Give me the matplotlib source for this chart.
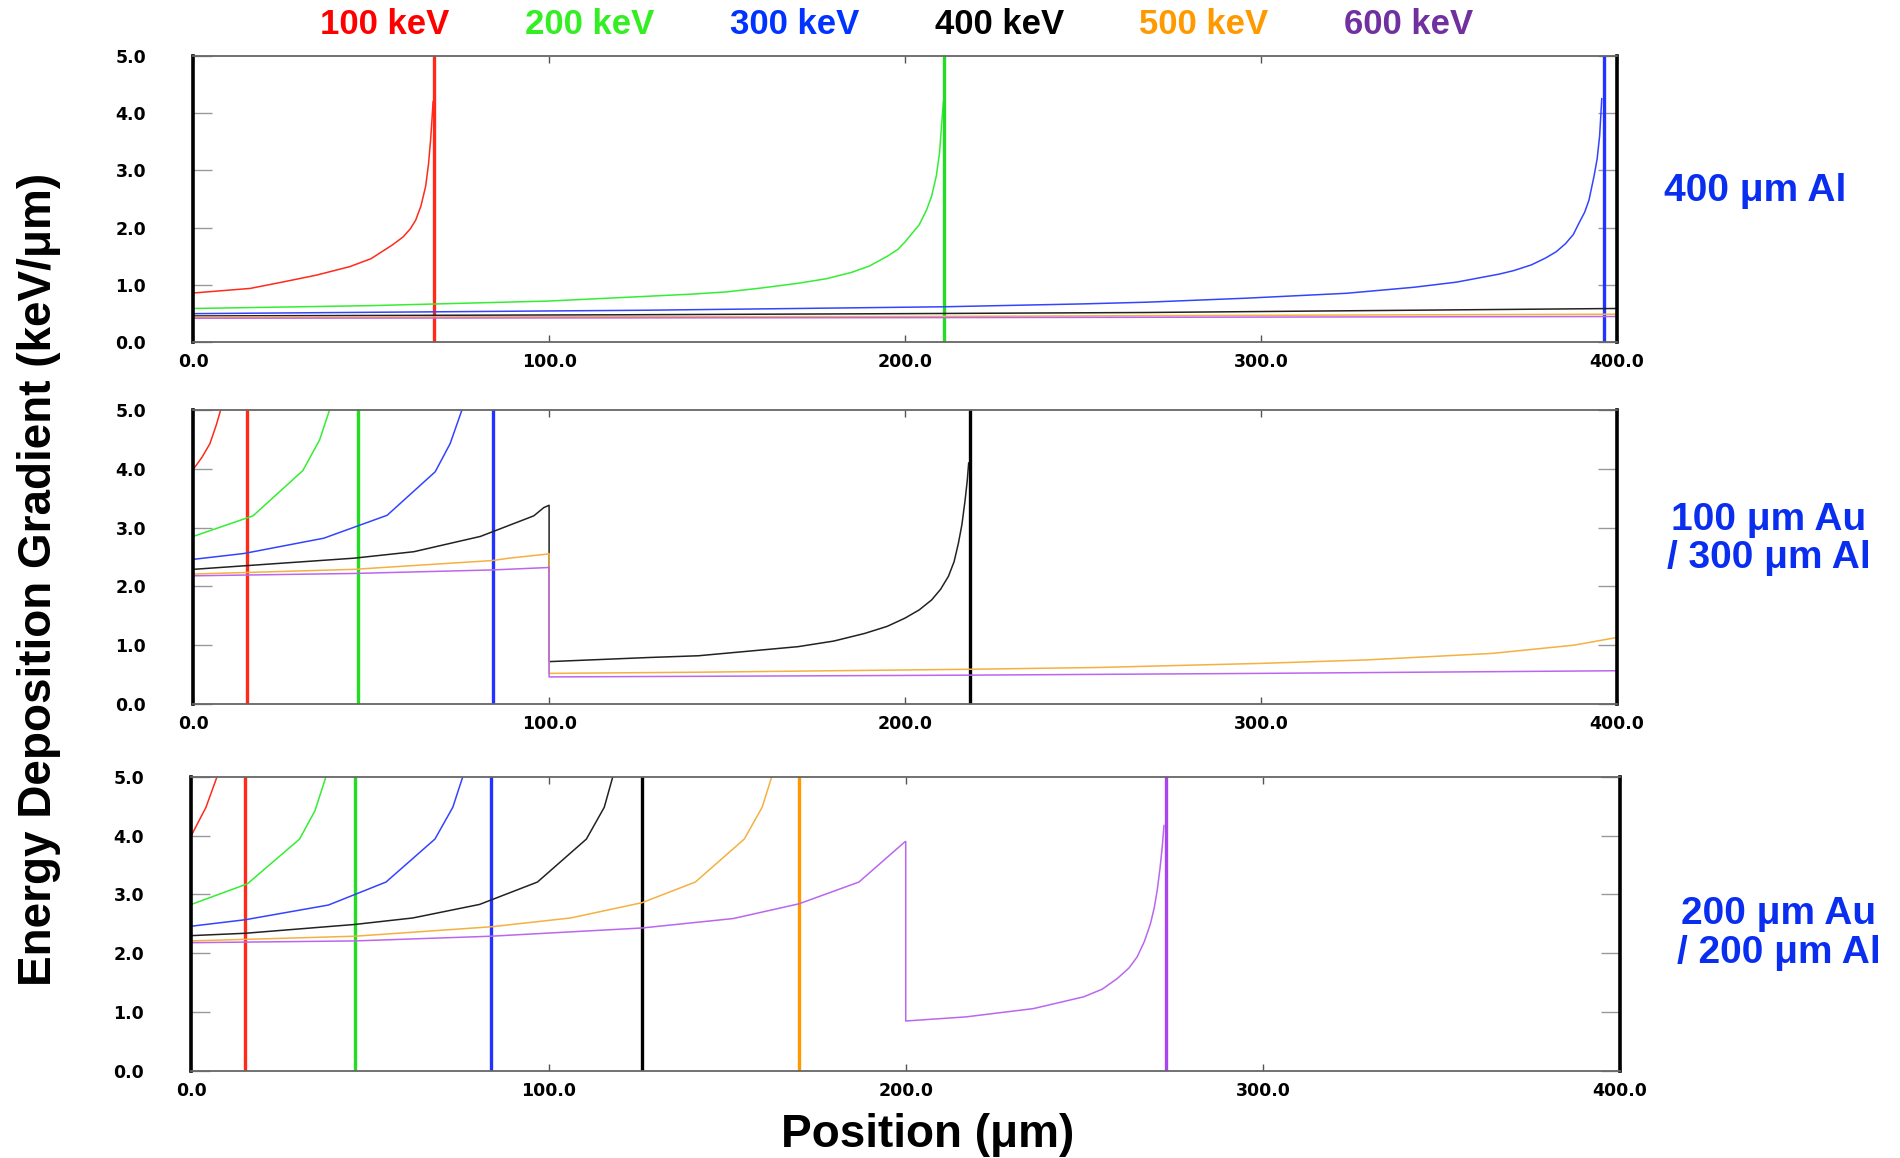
import matplotlib.pyplot as plt

# energies / colours
energies = ["100 keV", "200 keV", "300 keV", "400 keV", "500 keV", "600 keV"]
legend_colors = ["#ff0000", "#33ee22", "#0033ff", "#000000", "#ff9900", "#7030a0"]
curve_colors = ["#ff2a1a", "#33ee33", "#3344ff", "#222222", "#f5b041", "#bb66ee"]
stop_colors = ["#ff2a1a", "#22dd22", "#2233ff", "#000000", "#ff9900", "#aa44ee"]

panel_labels = ["400 μm Al", "100 μm Au\n/ 300 μm Al", "200 μm Au\n/ 200 μm Al"]

# ---- panel 1 : 400 um Al ----
p1_red_x = [0, 16, 25, 34.5, 44, 50, 53, 56, 59, 61, 62.5, 64, 65.3, 66.1, 66.7, 67.1, 67.4]
p1_red_y = [0.86, 0.94, 1.05, 1.17, 1.32, 1.46, 1.58, 1.7, 1.84, 1.98, 2.13, 2.38, 2.72, 3.1, 3.53, 3.9, 4.2]
p1_green_x = [0, 50, 100, 120, 140, 150, 160, 170, 178, 185, 190, 195, 198, 200, 202, 204, 206,
              207.5, 208.8, 209.7, 210.3, 210.8]
p1_green_y = [0.59, 0.64, 0.72, 0.78, 0.84, 0.88, 0.95, 1.03, 1.11, 1.22, 1.33, 1.5, 1.62, 1.75, 1.9,
              2.05, 2.3, 2.55, 2.9, 3.3, 3.8, 4.2]
p1_blue_x = [0, 128, 211, 250, 268, 296, 324, 343, 355, 361, 367, 371, 376, 380, 383, 385.6, 387.8,
             389.4, 391, 392.2, 393.6, 394.5, 395.2, 395.8]
p1_blue_y = [0.5, 0.56, 0.62, 0.67, 0.7, 0.77, 0.855, 0.96, 1.05, 1.12, 1.19, 1.25, 1.35, 1.47, 1.58,
             1.72, 1.88, 2.08, 2.27, 2.48, 2.89, 3.2, 3.6, 4.25]
p1_black_x = [0, 120, 200, 268, 400]
p1_black_y = [0.46, 0.48, 0.5, 0.52, 0.59]
p1_orange_x = [0, 200, 268, 400]
p1_orange_y = [0.44, 0.45, 0.465, 0.49]
p1_purple_x = [0, 200, 400]
p1_purple_y = [0.42, 0.43, 0.45]
p1_stops = [67.7, 210.9, 396.3, None, None, None]

# ---- panel 2 : 100 um Au / 300 um Al ----
p2_red_x = [0, 2.5, 4.7, 6.5, 7.7]
p2_red_y = [3.99, 4.2, 4.43, 4.75, 5.0]
p2_green_x = [0, 16.8, 30.8, 35.5, 38.3]
p2_green_y = [2.85, 3.2, 3.97, 4.49, 5.0]
p2_blue_x = [0, 14.3, 36.7, 54.5, 68, 72.2, 75.5]
p2_blue_y = [2.46, 2.56, 2.82, 3.21, 3.95, 4.43, 5.0]
p2_black_x = [0, 14.3, 45.2, 62, 80.7, 95.7, 98.5, 100, 100, 128, 142, 170, 180, 188.7, 195, 200, 204,
              207.5, 210, 212.2, 213.8, 215, 216, 216.9, 217.5, 217.9]
p2_black_y = [2.29, 2.35, 2.48, 2.59, 2.85, 3.2, 3.34, 3.38, 0.72, 0.79, 0.82, 0.975, 1.07, 1.2, 1.32,
              1.46, 1.6, 1.77, 1.95, 2.17, 2.42, 2.73, 3.05, 3.47, 3.8, 4.1]
p2_orange_x = [0, 45.2, 84.1, 88.8, 99.5, 100, 100, 142, 218, 254, 300, 330, 365, 388, 400]
p2_orange_y = [2.21, 2.29, 2.44, 2.48, 2.55, 2.56, 0.52, 0.54, 0.59, 0.62, 0.69, 0.75, 0.86, 1.0, 1.13]
p2_purple_x = [0, 45.2, 84.1, 99.5, 100, 100, 142, 218, 300, 400]
p2_purple_y = [2.18, 2.22, 2.28, 2.32, 2.33, 0.46, 0.47, 0.49, 0.52, 0.565]
p2_stops = [15.2, 46.3, 84.1, 218.2, None, None]

# ---- panel 3 : 200 um Au / 200 um Al ----
p3_red_x = [0, 4.1, 7.2]
p3_red_y = [4.0, 4.48, 5.0]
p3_green_x = [0, 15.7, 30.3, 34.6, 37.7]
p3_green_y = [2.83, 3.18, 3.94, 4.42, 5.0]
p3_blue_x = [0, 15.1, 38.4, 54.5, 68.2, 73.2, 76]
p3_blue_y = [2.46, 2.57, 2.82, 3.21, 3.94, 4.48, 5.0]
p3_black_x = [0, 15.1, 45.8, 62, 80.7, 96.9, 110.6, 115.6, 118]
p3_black_y = [2.3, 2.34, 2.49, 2.6, 2.83, 3.21, 3.94, 4.48, 5.0]
p3_orange_x = [0, 45.8, 83.9, 106.2, 126.2, 141.1, 154.8, 159.8, 162.5]
p3_orange_y = [2.21, 2.29, 2.45, 2.6, 2.86, 3.21, 3.94, 4.48, 5.0]
p3_purple_x = [0, 45.8, 83.9, 126.2, 151.7, 170.1, 186.9, 199.7, 200, 200, 216.9, 235.7, 249.8, 255,
               259.2, 262.5, 264.8, 266.8, 268.5, 269.6, 270.4, 271.2, 271.8, 272.3]
p3_purple_y = [2.18, 2.21, 2.29, 2.43, 2.59, 2.84, 3.21, 3.89, 3.9, 0.85, 0.92, 1.06, 1.26, 1.39,
               1.57, 1.75, 1.94, 2.2, 2.5, 2.78, 3.07, 3.45, 3.8, 4.17]
p3_stops = [15.1, 45.8, 83.9, 126.2, 170.1, 272.9]

panels = [
    ([(p1_red_x, p1_red_y), (p1_green_x, p1_green_y), (p1_blue_x, p1_blue_y),
      (p1_black_x, p1_black_y), (p1_orange_x, p1_orange_y), (p1_purple_x, p1_purple_y)], p1_stops),
    ([(p2_red_x, p2_red_y), (p2_green_x, p2_green_y), (p2_blue_x, p2_blue_y),
      (p2_black_x, p2_black_y), (p2_orange_x, p2_orange_y), (p2_purple_x, p2_purple_y)], p2_stops),
    ([(p3_red_x, p3_red_y), (p3_green_x, p3_green_y), (p3_blue_x, p3_blue_y),
      (p3_black_x, p3_black_y), (p3_orange_x, p3_orange_y), (p3_purple_x, p3_purple_y)], p3_stops),
]

# axes boxes [left, bottom, width, height] in figure fraction
boxes = [
    [0.1017, 0.7044, 0.7492, 0.2475],
    [0.1017, 0.3921, 0.7492, 0.2538],
    [0.1007, 0.0751, 0.7520, 0.2542],
]
label_pos = [(0.9237, 0.835), (0.931, 0.5345), (0.936, 0.194)]

fig = plt.figure(figsize=(19, 11.58), dpi=100)

for (curves, stops), box, lab, lp in zip(panels, boxes, panel_labels, label_pos):
    ax = fig.add_axes(box)
    for i, (xs, ys) in enumerate(curves):
        ax.plot(xs, ys, color=curve_colors[i], lw=1.1)
        if stops[i] is not None:
            ax.axvline(stops[i], color=stop_colors[i], lw=2.4)
    ax.set_xlim(0, 400)
    ax.set_ylim(0, 5)
    ax.set_xticks([0, 100, 200, 300, 400])
    ax.set_yticks([0, 1, 2, 3, 4, 5])
    ax.set_xticklabels(["0.0", "100.0", "200.0", "300.0", "400.0"])
    ax.set_yticklabels(["0.0", "1.0", "2.0", "3.0", "4.0", "5.0"])
    ax.tick_params(axis="y", direction="in", length=14, width=1, color="#999999",
                   left=True, right=True, pad=34, labelsize=12.5)
    ax.tick_params(axis="x", direction="in", length=5, width=1, color="#555555",
                   top=True, bottom=True, pad=8, labelsize=12.5)
    for t in ax.get_xticklabels() + ax.get_yticklabels():
        t.set_fontweight("heavy")
        t.set_family("DejaVu Sans")
    for s in ["left", "right"]:
        ax.spines[s].set_linewidth(2.6)
        ax.spines[s].set_color("black")
    for s in ["top", "bottom"]:
        ax.spines[s].set_linewidth(1.3)
        ax.spines[s].set_color("#666666")
    fig.text(lp[0], lp[1], lab, color="#0a2ef0", fontsize=28, fontweight="bold",
             family="Liberation Sans", ha="center", va="center", linespacing=1.1)

# energy legend across the top
legend_x = [0.2026, 0.3105, 0.4184, 0.5263, 0.6337, 0.7416]
for e, c, x in zip(energies, legend_colors, legend_x):
    fig.text(x, 0.979, e, color=c, fontsize=25, fontweight="bold",
             family="Liberation Sans", ha="center", va="center")

fig.text(0.0205, 0.5, "Energy Deposition Gradient (keV/μm)", rotation=90, fontsize=33,
         fontweight="bold", family="Liberation Sans", ha="center", va="center")
fig.text(0.488, 0.0199, "Position (μm)", fontsize=33, fontweight="bold",
         family="Liberation Sans", ha="center", va="center")

fig.savefig("out.png", dpi=100)
